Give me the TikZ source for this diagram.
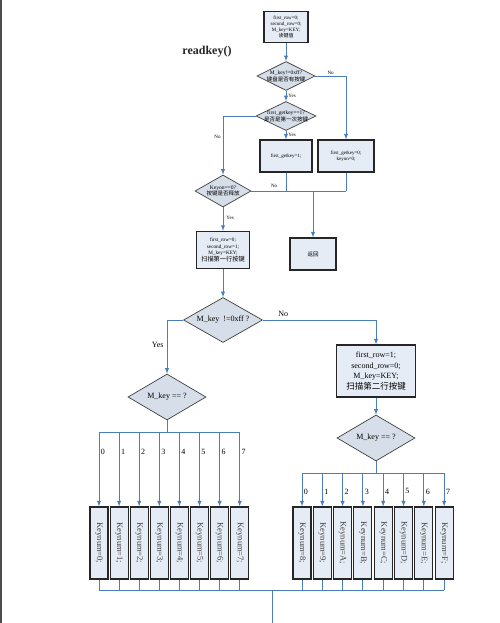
\documentclass[tikz,border=0pt]{standalone}
\usepackage{fontspec}
\setmainfont{Liberation Serif}
\newfontfamily\cjk{Noto Sans CJK SC}
\usepackage{graphicx}
\usetikzlibrary{shapes.geometric,calc}
\definecolor{flowblue}{RGB}{74,126,187}
\definecolor{boxfill}{RGB}{230,236,245}
\definecolor{diafill}{RGB}{214,222,233}

\begin{document}
\begin{tikzpicture}[x=1pt,y=-1pt]
        \tikzset{
            style flow/.style={draw=flowblue,line width=0.9pt},
            style arrow/.style={style flow,-latex},
            style box/.style={draw=black!85,line width=1.1pt,fill=boxfill,align=center,inner sep=1pt},
            style decision/.style={diamond,draw=black!75,line width=0.7pt,fill=diafill,inner sep=0pt},
            style tiny/.style={font=\fontsize{5}{6}\selectfont,align=center},
            style small/.style={font=\fontsize{5.5}{6.8}\selectfont,align=center},
            style mid/.style={font=\fontsize{8}{10.5}\selectfont,align=center},
            style keynum/.style={style box,minimum width=18pt,minimum height=72pt,text=black!75,font=\fontsize{8.5}{10}\selectfont}
        };
        \useasboundingbox (0,0) rectangle (500,623);
        \fill[white] (0,0) rectangle (500,623);
        \draw[black!70,line width=1.5pt] (0.75,0) -- (0.75,623);

        % first row scan
        \node[style box,style tiny,minimum width=44pt,minimum height=31pt] (start) at (286,27)
            {first\_row=0;\\second\_row=0;\\M\_key=KEY;\\{\cjk 读键值}};
        \node[font=\bfseries\fontsize{12}{14}\selectfont,text=black!85] (title) at (207,52) {readkey()};
        \node[style decision,minimum width=58pt,minimum height=29pt,
            label={[style small]center:M\_key!=0xff?\\{\cjk 键盘是否有按键}}] (haskey) at (286,76) {};
        \node[style decision,minimum width=60pt,minimum height=29pt,
            label={[style small]center:first\_getkey==1?\\{\cjk 是否是第一次按键}}] (firstkey) at (286,116) {};
        \node[style box,style tiny,minimum width=52pt,minimum height=32pt] (setfirst) at (286,156) {first\_getkey=1;};
        \node[style box,style tiny,minimum width=56pt,minimum height=32pt] (clearfirst) at (346,156) {first\_getkey=0;\\keyon=0;};
        \node[style decision,minimum width=56pt,minimum height=32pt,
            label={[style small]center:Keyon==0?\\{\cjk 按键是否释放}}] (release) at (223,191) {};
        \node[style box,minimum width=53pt,minimum height=37pt,font=\fontsize{5.2}{6.4}\selectfont] (rowone) at (223,250)
            {first\_row=0;\\second\_row=1;\\M\_key=KEY;\\{\cjk\fontsize{6.2}{7.4}\selectfont 扫描第一行按键}};
        \node[style box,style small,minimum width=46pt,minimum height=32pt] (back) at (313,254) {\cjk 返回};

        % second row scan
        \node[style decision,minimum width=79pt,minimum height=45pt,
            label={[style mid]center:M\_key~~!=0xff~?}] (anykey) at (223,320) {};
        \node[style decision,minimum width=78pt,minimum height=46pt,
            label={[style mid]center:M\_key == ?}] (lowcase) at (167,397) {};
        \node[style box,style mid,minimum width=79pt,minimum height=52pt] (rowtwo) at (376,371)
            {first\_row=1;\\second\_row=0;\\M\_key=KEY;\\{\cjk\fontsize{8.5}{10}\selectfont 扫描第二行按键}};
        \node[style decision,minimum width=78pt,minimum height=46pt,
            label={[style mid]center:M\_key == ?}] (highcase) at (376,438) {};
        \foreach \i in {0,...,7} {
            \node[style keynum] (low\i) at (99+20.1*\i,543) {\rotatebox{-90}{Keynum=\i;}};
        }
        \foreach \i/\k in {0/8,1/9,2/A,3/B,4/C,5/D,6/E,7/F} {
            \node[style keynum] (high\i) at (302+20.3*\i,543) {\rotatebox{-90}{Keynum=\k;}};
        }

        % connectors
        \draw[style arrow] (start.south) -- (haskey.north);
        \draw[style arrow] (haskey.south) -- (firstkey.north) node[midway,right,style tiny,inner sep=2pt] {Yes};
        \draw[style arrow] (firstkey.south) -- (setfirst.north) node[midway,right,style tiny,inner sep=2pt] {Yes};
        \draw[style arrow] (haskey.east) -| (clearfirst.north) node[pos=0.25,above,style tiny,inner sep=1.5pt] {No};
        \draw[style arrow] (firstkey.west) -| (release.north) node[pos=0.68,left,style tiny,inner sep=2pt] {No};
        \draw[style flow] (release.east) -- (release.east -| clearfirst.south) node[pos=0.24,above,style tiny] {No};
        \draw[style flow] (setfirst.south) -- (setfirst.south |- release.east);
        \draw[style flow] (clearfirst.south) -- (clearfirst.south |- release.east);
        \draw[style arrow] (back.north |- release.east) -- (back.north);
        \draw[style arrow] (release.south) -- (rowone.north) node[pos=0.45,right,style tiny,inner sep=3pt] {Yes};
        \draw[style arrow] (rowone.south) -- (anykey.north);
        \draw[style arrow] (anykey.west) -| (lowcase.north) node[pos=0.73,left,style mid,inner sep=3pt] {Yes};
        \draw[style arrow] (anykey.east) -| (rowtwo.north) node[pos=0.09,above,style mid] {No};
        \draw[style arrow] (rowtwo.south) -- (highcase.north);

        % key branches
        \coordinate (lowbus) at (167,432);
        \coordinate (highbus) at (376,473);
        \coordinate (joinbus) at (272,590);
        \coordinate (exit) at (272,623);
        \draw[style flow] (lowcase.south) -- (lowbus);
        \draw[style flow] (low0.north |- lowbus) -- (low7.north |- lowbus);
        \foreach \i in {0,...,7}
            \draw[style arrow] (low\i.north |- lowbus) -- (low\i.north) node[pos=0.27,right,style mid,inner sep=1.5pt] {\i};
        \draw[style flow] (highcase.south) -- (highbus);
        \draw[style flow] (high0.north |- highbus) -- (high7.north |- highbus);
        \foreach \i in {0,...,7}
            \draw[style arrow] (high\i.north |- highbus) -- (high\i.north) node[pos=0.55,right,style mid,inner sep=1.5pt] {\i};
        \foreach \i in {0,...,7} {
            \draw[style flow] (low\i.south) -- (low\i.south |- joinbus);
            \draw[style flow] (high\i.south) -- (high\i.south |- joinbus);
        }
        \draw[style flow] (low0.south |- joinbus) -- (high7.south |- joinbus);
        \draw[style flow] (joinbus) -- (exit);
\end{tikzpicture}
\end{document}
